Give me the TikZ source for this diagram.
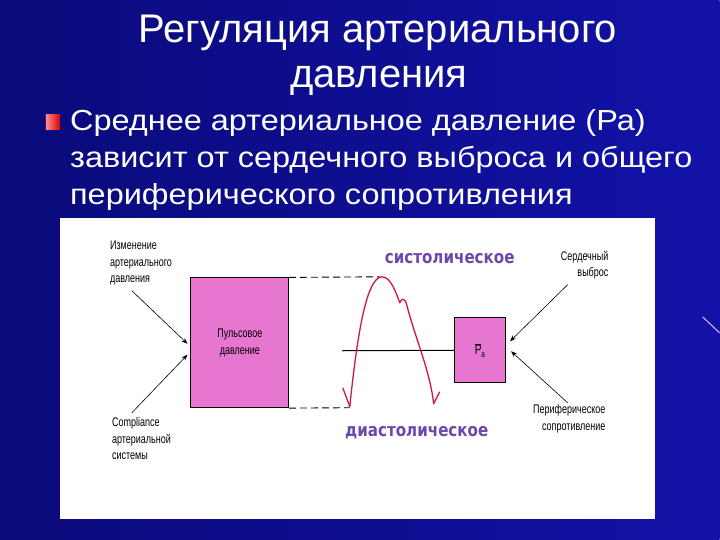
\documentclass[tikz,border=0pt]{standalone}
\usepackage{fontspec}
\setmainfont{Liberation Sans}
\newfontfamily\narrowfont[FakeStretch=0.72]{Liberation Sans}
\newfontfamily\widefont[FakeStretch=1.12]{Liberation Sans}
\newfontfamily\boldfont[FakeStretch=0.84]{DejaVu Sans Bold}
\usetikzlibrary{arrows.meta}

\definecolor{slideblue}{RGB}{10,10,122}
\definecolor{slideblueR}{RGB}{18,18,168}
\definecolor{pulsepink}{RGB}{230,118,208}
\definecolor{curvered}{RGB}{212,22,70}
\definecolor{labelpurple}{RGB}{108,72,170}

\tikzset{
  pinkbox/.style={draw=black,fill=pulsepink,line width=0.8pt,inner sep=0pt},
  lbl/.style={font=\narrowfont\fontsize{12.5}{16.5}\selectfont,inner sep=0pt},
  phase/.style={font=\boldfont\fontsize{18}{20}\selectfont,text=labelpurple,inner sep=0pt},
  titletext/.style={text=white,font=\fontsize{40}{45}\selectfont,inner sep=0pt,anchor=base},
  bullettext/.style={text=white,font=\widefont\fontsize{29}{37}\selectfont,inner sep=0pt,anchor=base west},
  arr/.style={-{Stealth[length=6pt,width=4.5pt]},line width=0.6pt},
  levelline/.style={dash pattern=on 7pt off 4pt,line width=0.9pt}
}

\begin{document}
\begin{tikzpicture}[x=1pt,y=-1pt]

    % slide background
    \shade[left color=slideblue,right color=slideblueR] (0,0) rectangle (720,540);
    \draw[white!75!violet,line width=1pt] (703,317) -- (720,333);

    % title
    \node[titletext] (title1) at (378,43) {Регуляция артериального};
    \node[titletext] (title2) at (379,88) {давления};

    % bullet text
    \shade[left color=white!55!red,right color=red!85!black] (46,115) rectangle (60,130);
    \node[bullettext] (bul1) at (70,131) {Среднее артериальное давление (Ра)};
    \node[bullettext] (bul2) at (70,168) {зависит от сердечного выброса и общего};
    \node[bullettext] (bul3) at (70,205) {периферического сопротивления};

    % white panel
    \fill[white] (60,218) rectangle (655,519);

    % boxes
    \node[pinkbox,minimum width=98,minimum height=130,font=\narrowfont\fontsize{12.5}{16.5}\selectfont,align=center] (pulse) at (240,343) {Пульсовое\\давление};
    \node[pinkbox,minimum width=51,minimum height=65,font=\narrowfont\fontsize{14}{14}\selectfont] (mean) at (480.5,350.5) {$\overline{\mbox{P}}_{\mbox{\narrowfont\fontsize{9}{9}\selectfont a}}$};

    % dashed levels
    \coordinate (sys) at (380,277);
    \coordinate (dia) at (350,408);
    \draw[levelline] (pulse.north east) -- (sys);
    \draw[levelline] (pulse.south east) -- (dia);

    % mean line
    \coordinate (mstart) at (342,351);
    \draw[line width=1pt] (mstart) -- (mean.west);

    % pressure curve
    \draw[curvered,line width=1.3pt,line join=round]
      (350,407) .. controls (357,340) and (366,278) .. (382,277)
      .. controls (391,277) and (396,292) .. (400,303)
      .. controls (402,298) and (405,298) .. (407,305)
      .. controls (416,340) and (430,370) .. (434,404) -- (440,392);
    \draw[curvered,line width=1.3pt] (350,407) -- (343,388);

    % labels
    \node[phase] (syslbl) at (450,259) {систолическое};
    \node[phase] (dialbl) at (417,433) {диастолическое};

    \node[lbl,align=left,anchor=north west] (change) at (110,241) {Изменение\\артериального\\давления};
    \node[lbl,align=left,anchor=north west] (compl) at (112,418) {Compliance\\артериальной\\системы};
    \node[lbl,align=right,anchor=north east] (output) at (609,251) {Сердечный\\выброс};
    \node[lbl,align=right,anchor=north east] (resist) at (606,405) {Периферическое\\сопротивление};

    % arrows
    \coordinate (a1) at (132,291);
    \coordinate (a2) at (132,413);
    \coordinate (a3) at (568,285);
    \coordinate (a4) at (568,403);
    \draw[arr] (a1) -- ([shift={(-3,1)}]pulse.west);
    \draw[arr] (a2) -- ([shift={(-3,12)}]pulse.west);
    \draw[arr] (a3) -- ([shift={(4,-9)}]mean.east);
    \draw[arr] (a4) -- ([shift={(5,1)}]mean.east);

\end{tikzpicture}
\end{document}
